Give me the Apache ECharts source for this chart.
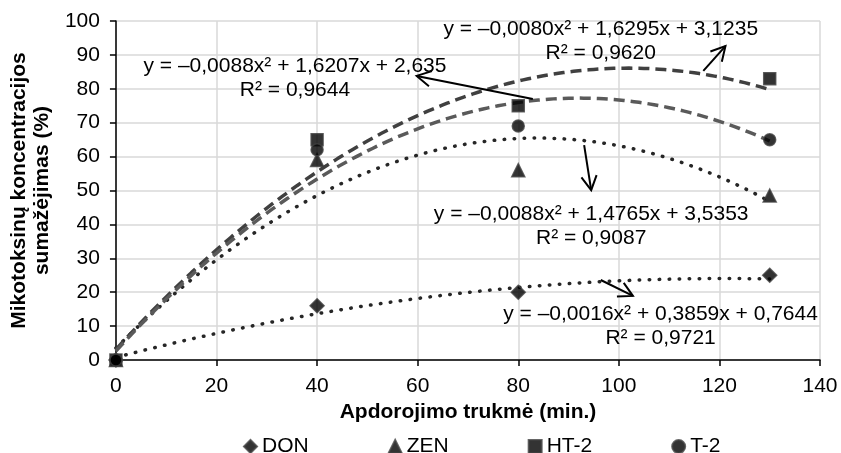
<!DOCTYPE html>
<html>
<head>
<meta charset="utf-8">
<script src="https://cdn.jsdelivr.net/npm/echarts@6/dist/echarts.min.js"></script>
<style>
  html, body { margin: 0; padding: 0; background: #fff; }
  #chart { width: 841px; height: 453px; }
</style>
</head>
<body>
<div id="chart"></div>
<script>
  // measured points
  var seriesNames = ['DON', 'ZEN', 'HT-2', 'T-2'];
  var times = [0, 40, 80, 130];
  var donValues = [0, 16, 20, 25];
  var zenValues = [0, 59, 56, 48.5];
  var ht2Values = [0, 65, 75, 83];
  var t2Values = [0, 62, 69, 65];

  // trendline coefficients (a, b, c) as printed on the chart
  var donFit = [-0.0016, 0.3859, 0.7644];
  var zenFit = [-0.0088, 1.4765, 3.5353];
  var ht2Fit = [-0.0080, 1.6295, 3.1235];
  var t2Fit = [-0.0088, 1.6207, 2.635];

  var xTicks = [0, 20, 40, 60, 80, 100, 120, 140];
  var yTicks = [0, 10, 20, 30, 40, 50, 60, 70, 80, 90, 100];

  var equationTexts = [
    'y = –0,0016x² + 0,3859x + 0,7644\nR² = 0,9721',
    'y = –0,0088x² + 1,4765x + 3,5353\nR² = 0,9087',
    'y = –0,0080x² + 1,6295x + 3,1235\nR² = 0,9620',
    'y = –0,0088x² + 1,6207x + 2,635\nR² = 0,9644'
  ];

  // where each label sits and where its arrow goes (data units)
  var labelAt = [[108.3, 10.0], [94.5, 39.4], [96.4, 94.0], [35.6, 83.0]];
  var arrowFrom = [[96.4, 23.6], [93.1, 63.4], [116.8, 85.3], [82.9, 77.0]];
  var arrowTo = [[102.8, 18.9], [94.5, 50.1], [121.2, 92.6], [59.8, 83.8]];

  var font = 'Liberation Sans, Arial, sans-serif';
  var fs = 21;

  function pairs(vals) {
    return times.map(function (t, i) { return [t, vals[i]]; });
  }
  function fitLine(c) {
    var pts = [];
    for (var x = 0; x <= times[times.length - 1]; x += 1) {
      pts.push([x, c[0] * x * x + c[1] * x + c[2]]);
    }
    return pts;
  }

  var chart = echarts.init(document.getElementById('chart'));

  var markerStyle = { color: '#000', borderColor: '#404040', borderWidth: 1.5 };
  var dotted = { color: '#262626', width: 3.5, type: [0.5, 9.5], cap: 'round' };

  var option = {
    animation: false,
    textStyle: { fontFamily: font },
    grid: { left: 113, right: 21, top: 21, bottom: 93 },
    legend: {
      data: seriesNames,
      left: 238,
      top: 431,
      itemWidth: 13,
      itemHeight: 13,
      itemGap: 79,
      textStyle: { fontSize: fs, color: '#000', fontFamily: font }
    },
    xAxis: {
      type: 'value',
      min: xTicks[0],
      max: xTicks[xTicks.length - 1],
      interval: 20,
      name: 'Apdorojimo trukmė (min.)',
      nameLocation: 'middle',
      nameGap: 42,
      nameTextStyle: { fontSize: fs, fontWeight: 'bold', color: '#000' },
      axisLine: { lineStyle: { color: '#000', width: 1.5 } },
      axisTick: { show: true, length: 6, lineStyle: { color: '#000', width: 1.5 } },
      axisLabel: { fontSize: fs, color: '#000', margin: 16 },
      splitLine: { lineStyle: { color: '#d9d9d9', width: 1.5 } }
    },
    yAxis: {
      type: 'value',
      min: yTicks[0],
      max: yTicks[yTicks.length - 1],
      interval: 10,
      name: 'Mikotoksinų koncentracijos\nsumažėjimas (%)',
      nameLocation: 'middle',
      nameRotate: 90,
      nameGap: 58,
      nameTextStyle: { fontSize: fs, fontWeight: 'bold', color: '#000', lineHeight: 23 },
      axisLine: { show: true, lineStyle: { color: '#000', width: 1.5 } },
      axisTick: { show: true, length: 6, lineStyle: { color: '#000', width: 1.5 } },
      axisLabel: { fontSize: fs, color: '#000', margin: 16 },
      splitLine: { lineStyle: { color: '#d9d9d9', width: 1.5 } }
    },
    series: [
      { name: 'DON fit', type: 'line', data: fitLine(donFit), showSymbol: false, lineStyle: dotted, z: 2 },
      { name: 'ZEN fit', type: 'line', data: fitLine(zenFit), showSymbol: false, lineStyle: dotted, z: 2 },
      { name: 'HT-2 fit', type: 'line', data: fitLine(ht2Fit), showSymbol: false,
        lineStyle: { color: '#404040', width: 3.5, type: [11, 6] }, z: 2 },
      { name: 'T-2 fit', type: 'line', data: fitLine(t2Fit), showSymbol: false,
        lineStyle: { color: '#5a5a5a', width: 3.5, type: [11, 6] }, z: 2 },
      { name: 'DON', type: 'scatter', symbol: 'diamond', symbolSize: 14, data: pairs(donValues), itemStyle: markerStyle, z: 3 },
      { name: 'ZEN', type: 'scatter', symbol: 'triangle', symbolSize: 13, data: pairs(zenValues), itemStyle: markerStyle, z: 3 },
      { name: 'HT-2', type: 'scatter', symbol: 'rect', symbolSize: 12, data: pairs(ht2Values), itemStyle: markerStyle, z: 3 },
      { name: 'T-2', type: 'scatter', symbol: 'circle', symbolSize: 12, data: pairs(t2Values), itemStyle: markerStyle, z: 3 },
      {
        name: 'arrows',
        type: 'custom',
        z: 4,
        silent: true,
        data: arrowFrom.map(function (p, i) { return [p[0], p[1], arrowTo[i][0], arrowTo[i][1]]; }),
        encode: { x: [0, 2], y: [1, 3] },
        renderItem: function (params, api) {
          var a = api.coord([api.value(0), api.value(1)]);
          var b = api.coord([api.value(2), api.value(3)]);
          var ang = Math.atan2(a[1] - b[1], a[0] - b[0]);
          var len = 16, spread = 0.5;
          var w1 = [b[0] + len * Math.cos(ang + spread), b[1] + len * Math.sin(ang + spread)];
          var w2 = [b[0] + len * Math.cos(ang - spread), b[1] + len * Math.sin(ang - spread)];
          var st = { stroke: '#000', lineWidth: 2, fill: null };
          return {
            type: 'group',
            children: [
              { type: 'line', shape: { x1: a[0], y1: a[1], x2: b[0], y2: b[1] }, style: st },
              { type: 'polyline', shape: { points: [w1, b, w2] }, style: st }
            ]
          };
        }
      },
      {
        name: 'equations',
        type: 'custom',
        z: 5,
        silent: true,
        data: labelAt,
        renderItem: function (params, api) {
          var p = api.coord([api.value(0), api.value(1)]);
          return {
            type: 'text',
            x: p[0],
            y: p[1],
            style: {
              text: equationTexts[params.dataIndex],
              align: 'center',
              verticalAlign: 'middle',
              fontSize: fs,
              lineHeight: 24,
              fontFamily: font,
              fill: '#000'
            }
          };
        }
      }
    ]
  };

  chart.setOption(option);
  window.addEventListener('resize', function () { chart.resize(); });
</script>
</body>
</html>
